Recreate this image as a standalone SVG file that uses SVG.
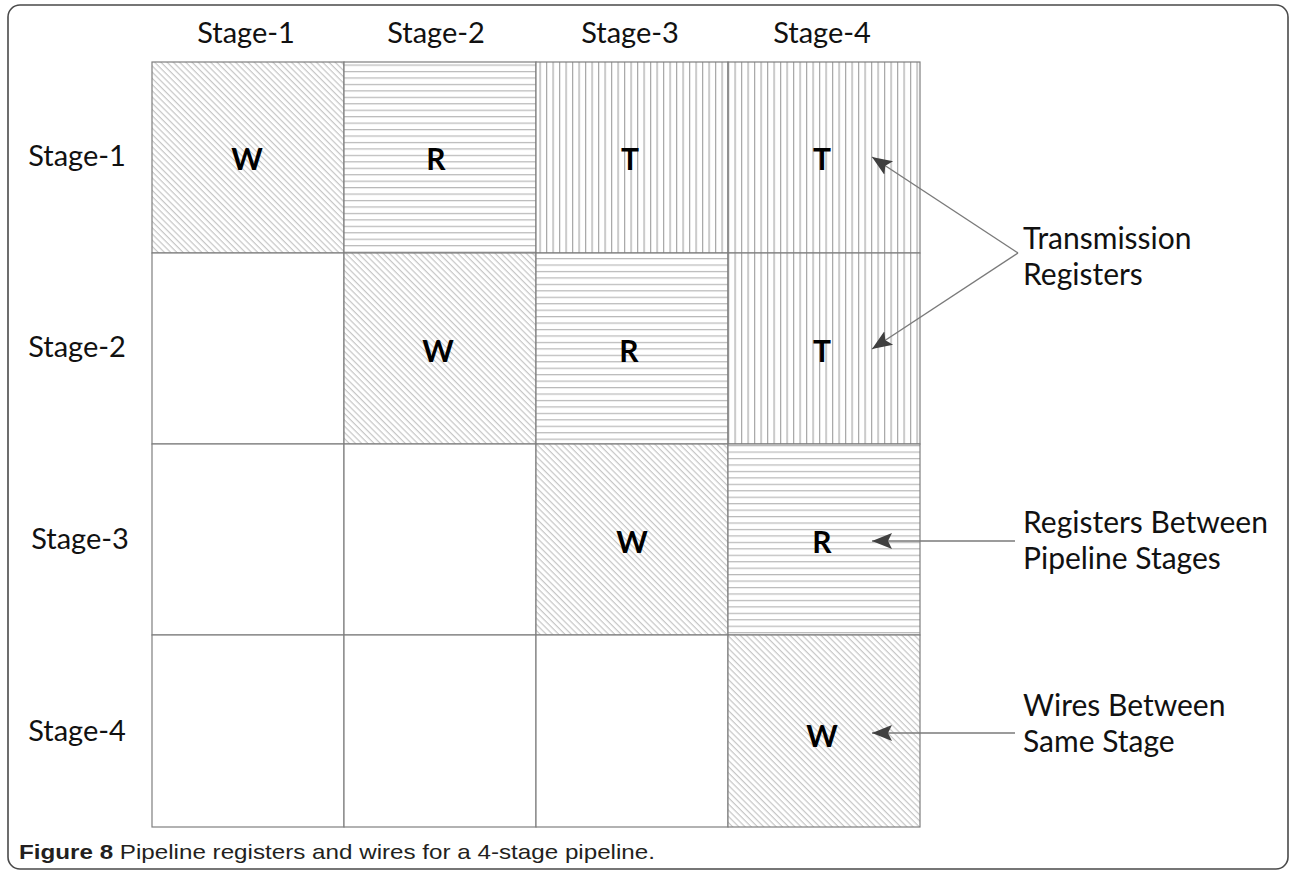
<svg xmlns="http://www.w3.org/2000/svg" width="1291" height="873" viewBox="0 0 1291 873">
  <style>
    .frame { fill: #ffffff; stroke: #4a4a4a; stroke-width: 1.6; }
    .cell { stroke: #7f7f7f; stroke-width: 1.2; }
    .blank { fill: #ffffff; }
    .wire { fill: url(#diag); }
    .reg { fill: url(#horiz); }
    .trans { fill: url(#vert); }
    .head { font-family: Lato, "Liberation Sans", sans-serif; font-size: 29px; fill: #111; text-anchor: middle; }
    .mark { font-family: Lato, "Liberation Sans", sans-serif; font-size: 30px; font-weight: bold; fill: #000; text-anchor: middle; }
    .note { font-family: Lato, "Liberation Sans", sans-serif; font-size: 30px; fill: #111; }
    .conn { stroke: #7a7a7a; stroke-width: 1.4; fill: none; marker-end: url(#arrow); }
    .cap { font-family: "Liberation Sans", Arial, sans-serif; font-size: 21px; fill: #231f20; }
  </style>
  <defs>
    <!-- hatching for same-stage wires -->
    <pattern id="diag" width="4.4" height="4.4" patternUnits="userSpaceOnUse" patternTransform="rotate(45)">
      <rect width="4.4" height="4.4" fill="#ffffff"/>
      <line x1="0" y1="0.6" x2="4.4" y2="0.6" stroke="#c6c6c6" stroke-width="1.2"/>
    </pattern>
    <!-- horizontal lines for pipeline registers -->
    <pattern id="horiz" width="10" height="6.45" patternUnits="userSpaceOnUse">
      <rect width="10" height="6.45" fill="#ffffff"/>
      <line x1="0" y1="0.6" x2="10" y2="0.6" stroke="#b8b8b8" stroke-width="1.2"/>
    </pattern>
    <!-- vertical lines for transmission registers -->
    <pattern id="vert" width="6.5" height="10" patternUnits="userSpaceOnUse">
      <rect width="6.5" height="10" fill="#ffffff"/>
      <line x1="0.6" y1="0" x2="0.6" y2="10" stroke="#a8a8a8" stroke-width="1.2"/>
    </pattern>
    <marker id="arrow" markerUnits="userSpaceOnUse" markerWidth="22" markerHeight="18" refX="20" refY="8" orient="auto" viewBox="0 0 22 16">
      <path d="M20,8 L0,0 L4,8 L0,16 Z" fill="#404040"/>
    </marker>
  </defs>

  <rect class="frame" x="8" y="5" width="1280" height="864" rx="12" ry="12"/>

  <!-- column headers -->
  <g id="col-headers">
    <text class="head" x="246" y="43">Stage-1</text>
    <text class="head" x="436" y="43">Stage-2</text>
    <text class="head" x="630" y="43">Stage-3</text>
    <text class="head" x="822" y="43">Stage-4</text>
  </g>

  <!-- row headers -->
  <g id="row-headers">
    <text class="head" x="77" y="166">Stage-1</text>
    <text class="head" x="77" y="357">Stage-2</text>
    <text class="head" x="80" y="549">Stage-3</text>
    <text class="head" x="77" y="741">Stage-4</text>
  </g>

  <!-- row 1 -->
  <g id="c11"><rect class="cell wire" x="152" y="62" width="192" height="191"/><text class="mark" x="247" y="170">W</text></g>
  <g id="c12"><rect class="cell reg" x="344" y="62" width="192" height="191"/><text class="mark" x="436" y="170">R</text></g>
  <g id="c13"><rect class="cell trans" x="536" y="62" width="192" height="191"/><text class="mark" x="630" y="170">T</text></g>
  <g id="c14"><rect class="cell trans" x="728" y="62" width="192" height="191"/><text class="mark" x="822" y="170">T</text></g>

  <!-- row 2 -->
  <g id="c21"><rect class="cell blank" x="152" y="253" width="192" height="191"/></g>
  <g id="c22"><rect class="cell wire" x="344" y="253" width="192" height="191"/><text class="mark" x="438" y="362">W</text></g>
  <g id="c23"><rect class="cell reg" x="536" y="253" width="192" height="191"/><text class="mark" x="629" y="362">R</text></g>
  <g id="c24"><rect class="cell trans" x="728" y="253" width="192" height="191"/><text class="mark" x="822" y="362">T</text></g>

  <!-- row 3 -->
  <g id="c31"><rect class="cell blank" x="152" y="444" width="192" height="191"/></g>
  <g id="c32"><rect class="cell blank" x="344" y="444" width="192" height="191"/></g>
  <g id="c33"><rect class="cell wire" x="536" y="444" width="192" height="191"/><text class="mark" x="632" y="553">W</text></g>
  <g id="c34"><rect class="cell reg" x="728" y="444" width="192" height="191"/><text class="mark" x="822" y="553">R</text></g>

  <!-- row 4 -->
  <g id="c41"><rect class="cell blank" x="152" y="635" width="192" height="192"/></g>
  <g id="c42"><rect class="cell blank" x="344" y="635" width="192" height="192"/></g>
  <g id="c43"><rect class="cell blank" x="536" y="635" width="192" height="192"/></g>
  <g id="c44"><rect class="cell wire" x="728" y="635" width="192" height="192"/><text class="mark" x="822" y="747">W</text></g>

  <!-- callout labels -->
  <g id="label-transmission">
    <text class="note" x="1023" y="249">Transmission</text>
    <text class="note" x="1023" y="285">Registers</text>
  </g>
  <g id="label-registers">
    <text class="note" x="1023" y="533">Registers Between</text>
    <text class="note" x="1023" y="569">Pipeline Stages</text>
  </g>
  <g id="label-wires">
    <text class="note" x="1023" y="716">Wires Between</text>
    <text class="note" x="1023" y="752">Same Stage</text>
  </g>

  <!-- connectors -->
  <g id="connectors">
    <line class="conn" x1="1018" y1="253" x2="872" y2="157"/>
    <line class="conn" x1="1018" y1="253" x2="872" y2="349"/>
    <line class="conn" x1="1015" y1="541" x2="872" y2="541"/>
    <line class="conn" x1="1015" y1="733" x2="872" y2="733"/>
  </g>

  <!-- caption -->
  <text class="cap" x="19" y="859" textLength="636" lengthAdjust="spacingAndGlyphs"><tspan font-weight="bold">Figure 8</tspan> Pipeline registers and wires for a 4-stage pipeline.</text>
</svg>
